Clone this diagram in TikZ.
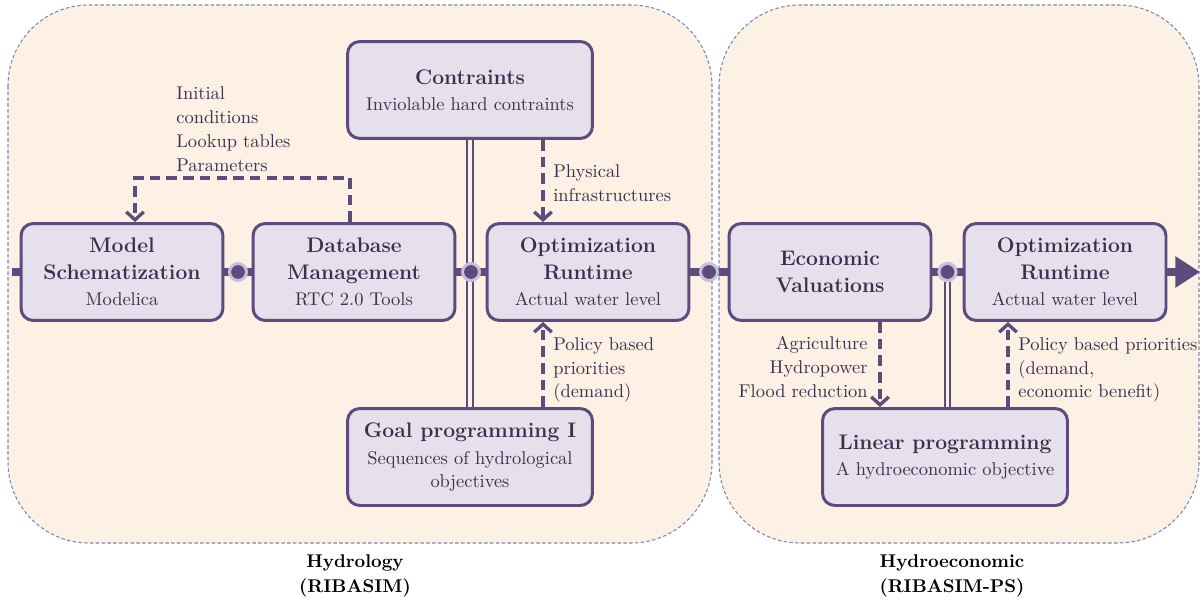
\documentclass[tikz,border=0pt]{standalone}
\usepackage{tikz}
\usetikzlibrary{arrows.meta, calc, positioning}
\definecolor{cpanel}{HTML}{FDF0E4}
\definecolor{cframe}{HTML}{7B8AA8}
\definecolor{cbox}{HTML}{E6E0EC}
\definecolor{cline}{HTML}{5E4B7E}
\definecolor{cring}{HTML}{C9BFDC}
\definecolor{ctext}{HTML}{3B2F50}
\newcommand{\hd}[1]{{\large\bfseries #1}}

\begin{document}
\begin{tikzpicture}[x=0.02cm, y=-0.02cm,
  panel/.style={draw=cframe, dash pattern=on 2pt off 1.3pt, line width=0.6pt,
                fill=cpanel, rounded corners=46pt},
  box/.style={draw=cline, line width=1.7pt, rounded corners=7pt, fill=cbox,
              text=ctext, align=center, minimum width=#1, minimum height=1.94cm,
              font=\fontsize{10.5}{15}\selectfont},
  box/.default=4.04cm,
  flow/.style={draw=cline, line width=4pt},
  joint/.style={circle, fill=cline, draw=cring, line width=1.7pt, inner sep=0pt,
                minimum size=0.34cm},
  dbl/.style={draw=cline, line width=1.1pt, double=cpanel, double distance=2pt},
  dsh/.style={draw=cline, line width=1.9pt, dash pattern=on 6pt off 3.5pt,
              -{Straight Barb[length=4.5pt, width=10pt]}},
  lbl/.style={text=ctext, inner sep=0pt, font=\fontsize{10.5}{13.6}\selectfont},
  panelcap/.style={text=black, align=center, font=\bfseries\fontsize{10.5}{14}\selectfont}
]
\useasboundingbox (0,0) rectangle (1202,601);

\draw[panel] (8,5) rectangle (712,543);
\draw[panel] (719,5) rectangle (1199,543);

\node[box] (model) at (122,272) {\hd{Model}\\\hd{Schematization}\\Modelica};
\node[box] (db)    at (354,272) {\hd{Database}\\\hd{Management}\\RTC 2.0 Tools};
\node[box=4.9cm] (con) at (470,90) {\hd{Contraints}\\Inviolable hard contraints};
\node[box] (opt)   at (588,272) {\hd{Optimization}\\\hd{Runtime}\\Actual water level};
\node[box=4.9cm] (goal) at (470,457) {\hd{Goal programming I}\\Sequences of hydrological\\[-2pt]objectives};
\node[box] (econ)  at (830,272) {\hd{Economic}\\\hd{Valuations}};
\node[box] (opt2)  at (1065,272) {\hd{Optimization}\\\hd{Runtime}\\Actual water level};
\node[box=4.9cm] (lin) at (945,457) {\hd{Linear programming}\\A hydroeconomic objective};

\coordinate (start) at (12,272);
\coordinate (end)   at (1200,272);

\draw[flow] (start) -- (model.west);
\draw[flow] (model.east) -- (db.west);
\draw[flow] (db.east) -- (opt.west);
\draw[flow] (opt.east) -- (econ.west);
\draw[flow] (econ.east) -- (opt2.west);
\draw[flow, -{Triangle[length=14pt, width=17pt]}] (opt2.east) -- (end);

\node[joint] (j1) at ($(model.east)!0.5!(db.west)$) {};
\node[joint] (j3) at ($(opt.east)!0.5!(econ.west)$) {};

\draw[dbl] (con.south) -- (goal.north);
\node[joint] (j2) at ($(db.east)!0.5!(opt.west)$) {};
\node[joint] (j4) at ($(econ.east)!0.5!(opt2.west)$) {};
\draw[dbl] (j4.south) -- (j4 |- lin.north);
\node[joint] at (j4) {};

\coordinate (c1) at ([xshift=1.46cm]con.south);
\coordinate (c2) at ([xshift=1.46cm]goal.north);
\coordinate (c3) at ([xshift=1cm]econ.south);
\coordinate (c4) at ([xshift=1.26cm]lin.north);

\draw[dsh] ([xshift=-0.08cm]db.north) -- ++(0,-44) -| ([xshift=0.26cm]model.north);
\draw[dsh] (c1) -- (c1 |- opt.north);
\draw[dsh] (c2) -- (c2 |- opt.south);
\draw[dsh] (c3) -- (c3 |- lin.north);
\draw[dsh] (c4) -- (c4 |- opt2.south);

\node[lbl, align=left, anchor=west]  (init) at (176,129) {Initial\\conditions\\Lookup tables\\Parameters};
\node[lbl, align=left, anchor=west]  (phys) at (553,183) {Physical\\infrastructures};
\node[lbl, align=left, anchor=west]  (pol)  at (553,370) {Policy based\\priorities\\(demand)};
\node[lbl, align=right, anchor=east] (agr)  at (868,367) {Agriculture\\Hydropower\\Flood reduction};
\node[lbl, align=left, anchor=west]  (pol2) at (1018,370) {Policy based priorities\\(demand,\\economic benefit)};

\node[panelcap] (hyd)  at (355,576) {Hydrology\\(RIBASIM)};
\node[panelcap] (hyde) at (952,576) {Hydroeconomic\\(RIBASIM-PS)};
\end{tikzpicture}
\end{document}
